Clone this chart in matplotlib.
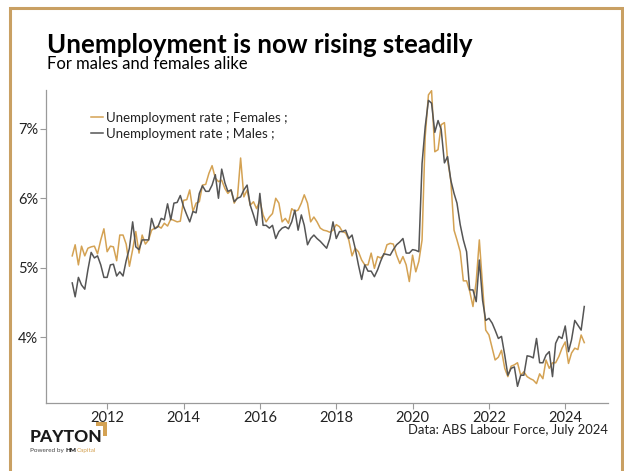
import pandas as pd
import matplotlib
matplotlib.use("Agg")
import matplotlib.pyplot as plt
import matplotlib.dates as mdates
from matplotlib.patches import Rectangle, Polygon

# monthly unemployment rate (%), Feb 2011 - Jul 2024
months = pd.date_range("2011-02-01", "2024-07-01", freq="MS")

females = [
    5.17, 5.33, 5.04, 5.31, 5.17, 5.28, 5.30, 5.31, 5.20, 5.40,
    5.56, 5.23, 5.31, 5.30, 5.10, 5.47, 5.47, 5.34, 5.02, 5.26,
    5.52, 5.21, 5.47, 5.34, 5.40, 5.54, 5.57, 5.60, 5.57, 5.64,
    5.60, 5.70, 5.68, 5.66, 5.67, 5.97, 5.98, 6.12, 5.81, 5.93,
    5.95, 6.19, 6.20, 6.36, 6.47, 6.29, 6.24, 6.26, 6.14, 6.07,
    6.12, 5.93, 6.02, 6.58, 6.02, 6.12, 5.90, 5.95, 5.85, 5.97,
    5.76, 5.66, 5.73, 5.78, 6.00, 5.93, 5.66, 5.71, 5.64, 5.85,
    5.81, 5.83, 5.93, 6.05, 5.93, 5.66, 5.73, 5.66, 5.57, 5.54,
    5.53, 5.51, 5.54, 5.62, 5.59, 5.52, 5.50, 5.40, 5.17, 5.28,
    5.23, 5.11, 5.04, 5.04, 5.21, 4.99, 5.16, 5.14, 5.18, 5.33,
    5.35, 5.34, 5.18, 5.06, 5.16, 5.04, 4.80, 5.18, 4.94, 5.09,
    5.40, 6.89, 7.49, 7.55, 6.67, 6.70, 7.06, 7.09, 6.55, 6.26,
    5.54, 5.40, 5.23, 4.81, 4.81, 4.66, 4.44, 4.80, 5.40, 4.73,
    4.10, 4.03, 3.84, 3.67, 3.71, 3.81, 3.55, 3.43, 3.58, 3.60,
    3.63, 3.45, 3.50, 3.43, 3.40, 3.38, 3.33, 3.47, 3.40, 3.67,
    3.55, 3.63, 3.63, 3.72, 3.84, 3.93, 3.62, 3.77, 3.84, 3.82,
    4.03, 3.92,
]

males = [
    4.78, 4.58, 4.86, 4.75, 4.69, 4.97, 5.22, 5.14, 5.17, 5.04,
    4.86, 4.86, 5.04, 5.05, 4.88, 4.94, 4.88, 5.10, 5.28, 5.66,
    5.30, 5.26, 5.40, 5.40, 5.40, 5.71, 5.56, 5.59, 5.71, 5.69,
    5.92, 5.69, 5.93, 5.94, 6.04, 5.88, 5.76, 5.66, 5.81, 5.79,
    6.07, 6.18, 6.10, 6.10, 6.19, 6.34, 6.00, 6.42, 6.22, 6.10,
    6.12, 5.95, 6.00, 6.02, 6.12, 6.19, 5.90, 5.76, 5.61, 6.07,
    5.61, 5.61, 5.57, 5.61, 5.42, 5.52, 5.57, 5.59, 5.56, 5.66,
    5.83, 5.54, 5.76, 5.61, 5.33, 5.42, 5.47, 5.42, 5.38, 5.33,
    5.28, 5.42, 5.66, 5.42, 5.52, 5.52, 5.54, 5.42, 5.47, 5.28,
    5.04, 4.83, 5.04, 4.95, 4.95, 4.87, 4.97, 5.09, 5.20, 5.19,
    5.18, 5.26, 5.33, 5.37, 5.42, 5.21, 5.21, 5.26, 5.25, 5.23,
    6.50, 7.03, 7.41, 7.37, 6.95, 7.12, 6.99, 6.51, 6.60, 6.26,
    6.07, 5.93, 5.62, 5.40, 5.23, 4.68, 4.68, 4.51, 5.11, 4.53,
    4.24, 4.27, 4.20, 4.10, 3.98, 4.01, 3.74, 3.45, 3.55, 3.57,
    3.29, 3.45, 3.45, 3.73, 3.72, 3.70, 3.98, 3.63, 3.63, 3.74,
    3.79, 3.43, 3.91, 4.01, 3.98, 4.16, 3.79, 3.96, 4.24, 4.17,
    4.10, 4.44,
]

y_ticks = [4, 5, 6, 7]
x_years = [2012, 2014, 2016, 2018, 2020, 2022, 2024]

GOLD = "#D4A253"
GREY = "#555555"
FRAME = "#C9A063"
AXIS = "#9a9a9a"

plt.rcParams["font.family"] = ["Lato", "DejaVu Sans"]

fig = plt.figure(figsize=(6.24, 4.71), dpi=100)
ax = fig.add_axes([46 / 624, 1 - 403 / 471, (608 - 46) / 624, (403 - 90) / 471])

ax.plot(months, females, color=GOLD, lw=1.1, label="Unemployment rate ; Females ;")
ax.plot(months, males, color=GREY, lw=1.1, label="Unemployment rate ; Males ;")

ax.set_ylim(3.05, 7.56)
ax.set_xlim(pd.Timestamp("2010-05-26"), pd.Timestamp("2025-02-13"))

ax.set_yticks(y_ticks)
ax.set_yticklabels([f"{v}%" for v in y_ticks])
ax.set_xticks([pd.Timestamp(f"{y}-01-01") for y in x_years])
ax.xaxis.set_major_formatter(mdates.DateFormatter("%Y"))

for side in ["top", "right"]:
    ax.spines[side].set_visible(False)
for side in ["left", "bottom"]:
    ax.spines[side].set_color(AXIS)
    ax.spines[side].set_linewidth(0.9)
ax.tick_params(axis="both", colors=AXIS, length=4, width=0.8, labelsize=10.5,
               labelcolor="#222222", pad=1.5)

ax.legend(loc="upper left", bbox_to_anchor=(91 / 624, 1 - 112 / 471),
          bbox_transform=fig.transFigure, frameon=False, fontsize=9.5,
          handlelength=0.9, handletextpad=0.2, labelspacing=0.3,
          borderpad=0, borderaxespad=0, labelcolor="#222222")

# headings
fig.text(47 / 624, 1 - 53 / 471, "Unemployment is now rising steadily",
         fontsize=18.6, fontweight="bold", color="black")
fig.text(47 / 624, 1 - 69 / 471, "For males and females alike",
         fontsize=12, color="black")

# source and logo
fig.text(608 / 624, 1 - 430 / 471, "Data: ABS Labour Force, July 2024",
         fontsize=9.4, color="#222222", ha="right", va="center")
fig.text(30 / 624, 1 - 442 / 471, "PAYTON", fontsize=12.5, fontweight="black",
         color="#1a1a1a")

# "Powered by HMCapital" strip, each piece placed after the previous one
renderer = fig.canvas.get_renderer()
x_px = 30
for word, weight, colour in [("Powered by ", "normal", "#444444"),
                             ("HM", "black", "#1a1a1a"),
                             ("Capital", "normal", GOLD)]:
    t = fig.text(x_px / 624, 1 - 452 / 471, word, fontsize=4.6,
                 fontweight=weight, color=colour)
    x_px = t.get_window_extent(renderer).x1 + 0.3

logo_mark = [(96, 422), (107, 422), (107, 436), (103, 436), (103, 426), (96, 426)]
fig.patches.append(Polygon([(x / 624, 1 - y / 471) for x, y in logo_mark],
                           closed=True, transform=fig.transFigure,
                           color=GOLD, lw=0))

# gold frame around the card
fig.patches.append(Rectangle((10 / 624, -0.1), 612 / 624, 1.1 - 8 / 471,
                             transform=fig.transFigure, fill=False,
                             edgecolor=FRAME, lw=2.2))

fig.savefig("out.png", dpi=100)
